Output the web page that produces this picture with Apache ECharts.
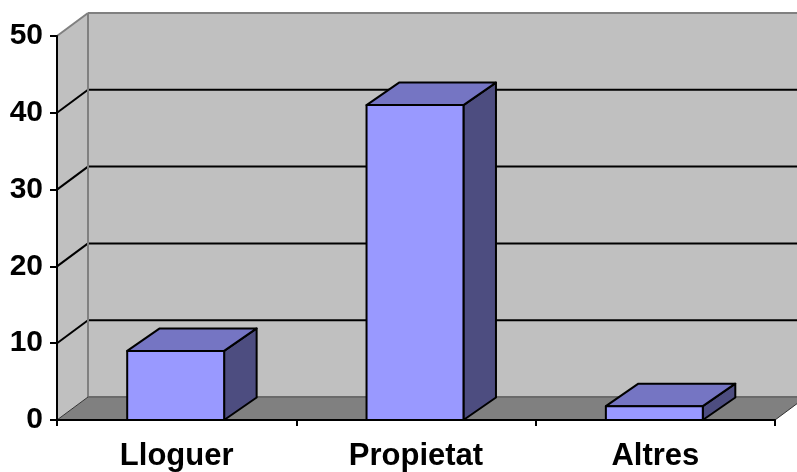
<!DOCTYPE html>
<html>
<head>
<meta charset="utf-8">
<style>html,body{margin:0;padding:0;background:#fff;}#c{width:797px;height:472px;}</style>
<script src="https://cdn.jsdelivr.net/npm/echarts@6/dist/echarts.min.js"></script>
</head>
<body>
<div id="c"></div>
<script>
var categories = ['Lloguer', 'Propietat', 'Altres'];
var values = [9, 41, 1.8];
var yTicks = [0, 10, 20, 30, 40, 50];

var chart = echarts.init(document.getElementById('c'));
var DX = 31, DY = -23;     // wall depth
var BX = 32.5, BY = -22.5; // bar depth
var FONT = '"Liberation Sans", Arial, sans-serif';

function renderWalls(params, api) {
  var cs = params.coordSys;
  var x0 = cs.x, x1 = cs.x + cs.width;
  var yb = api.coord([0, 0])[1];
  var yt = api.coord([0, yTicks[yTicks.length - 1]])[1];
  var ch = [];
  ch.push({type: 'polygon', shape: {points: [[x0 + DX, yt + DY], [x1 + DX, yt + DY], [x1 + DX, yb + DY], [x0 + DX, yb + DY]]}, style: {fill: '#C0C0C0'}});
  ch.push({type: 'polygon', shape: {points: [[x0, yt], [x0 + DX, yt + DY], [x0 + DX, yb + DY], [x0, yb]]}, style: {fill: '#C0C0C0'}});
  ch.push({type: 'polygon', shape: {points: [[x0, yb], [x1, yb], [x1 + DX, yb + DY], [x0 + DX, yb + DY]]}, style: {fill: '#808080'}});
  for (var i = 1; i < yTicks.length - 1; i++) {
    var y = api.coord([0, yTicks[i]])[1];
    ch.push({type: 'line', shape: {x1: x0 + DX, y1: y + DY, x2: x1 + DX, y2: y + DY}, style: {stroke: '#000', lineWidth: 2}});
    ch.push({type: 'line', shape: {x1: x0, y1: y, x2: x0 + DX, y2: y + DY}, style: {stroke: '#000', lineWidth: 2}});
  }
  ch.push({type: 'line', shape: {x1: x0 + DX, y1: yt + DY, x2: x1 + DX, y2: yt + DY}, style: {stroke: '#808080', lineWidth: 2}});
  ch.push({type: 'line', shape: {x1: x0, y1: yt, x2: x0 + DX, y2: yt + DY}, style: {stroke: '#808080', lineWidth: 2}});
  ch.push({type: 'line', shape: {x1: x0 + DX, y1: yt + DY, x2: x0 + DX, y2: yb + DY}, style: {stroke: '#808080', lineWidth: 2}});
  ch.push({type: 'line', shape: {x1: x0 + DX, y1: yb + DY, x2: x1 + DX, y2: yb + DY}, style: {stroke: '#6a6a6a', lineWidth: 2}});
  ch.push({type: 'line', shape: {x1: x0, y1: yb, x2: x0 + DX, y2: yb + DY}, style: {stroke: '#333', lineWidth: 1}});
  ch.push({type: 'line', shape: {x1: x1, y1: yb, x2: x1 + DX, y2: yb + DY}, style: {stroke: '#333', lineWidth: 1}});
  return {type: 'group', children: ch};
}

function renderBar(params, api) {
  var i = api.value(0), v = api.value(1);
  var p0 = api.coord([i, 0]);
  var p1 = api.coord([i, v]);
  var w = api.size([1, 0])[0] * 0.405;
  var l = p0[0] - w / 2 - 1, r = l + w;
  var yb = p0[1], yt = p1[1];
  var st = {stroke: '#000', lineWidth: 2, lineJoin: 'round'};
  return {type: 'group', children: [
    {type: 'polygon', shape: {points: [[r, yb], [r + BX, yb + BY], [r + BX, yt + BY], [r, yt]]}, style: Object.assign({fill: '#4D4D80'}, st)},
    {type: 'polygon', shape: {points: [[l, yt], [r, yt], [r + BX, yt + BY], [l + BX, yt + BY]]}, style: Object.assign({fill: '#7575C3'}, st)},
    {type: 'rect', shape: {x: l, y: yt, width: w, height: yb - yt}, style: Object.assign({fill: '#9999FF'}, st)}
  ]};
}

chart.setOption({
  animation: false,
  grid: {left: 57, right: 22, top: 36, bottom: 50},
  xAxis: {
    type: 'category', data: categories, z: 5,
    axisLine: {lineStyle: {color: '#000', width: 2}},
    axisTick: {show: true, length: 6, lineStyle: {color: '#000', width: 2}},
    axisLabel: {color: '#000', fontWeight: 'bold', fontSize: 31, fontFamily: FONT, margin: 21}
  },
  yAxis: {
    type: 'value', min: 0, max: 50, interval: 10, z: 5,
    axisLine: {show: true, lineStyle: {color: '#000', width: 2}},
    axisTick: {show: true, length: 7, lineStyle: {color: '#000', width: 2}},
    splitLine: {show: false},
    axisLabel: {color: '#000', fontWeight: 'bold', fontSize: 30, fontFamily: FONT, margin: 14}
  },
  series: [
    {type: 'custom', z: 1, silent: true, renderItem: renderWalls, data: [[0, 0]], clip: false},
    {type: 'custom', z: 3, renderItem: renderBar, data: values.map(function (v, i) { return [i, v]; }), clip: false}
  ]
});
</script>
</body>
</html>
